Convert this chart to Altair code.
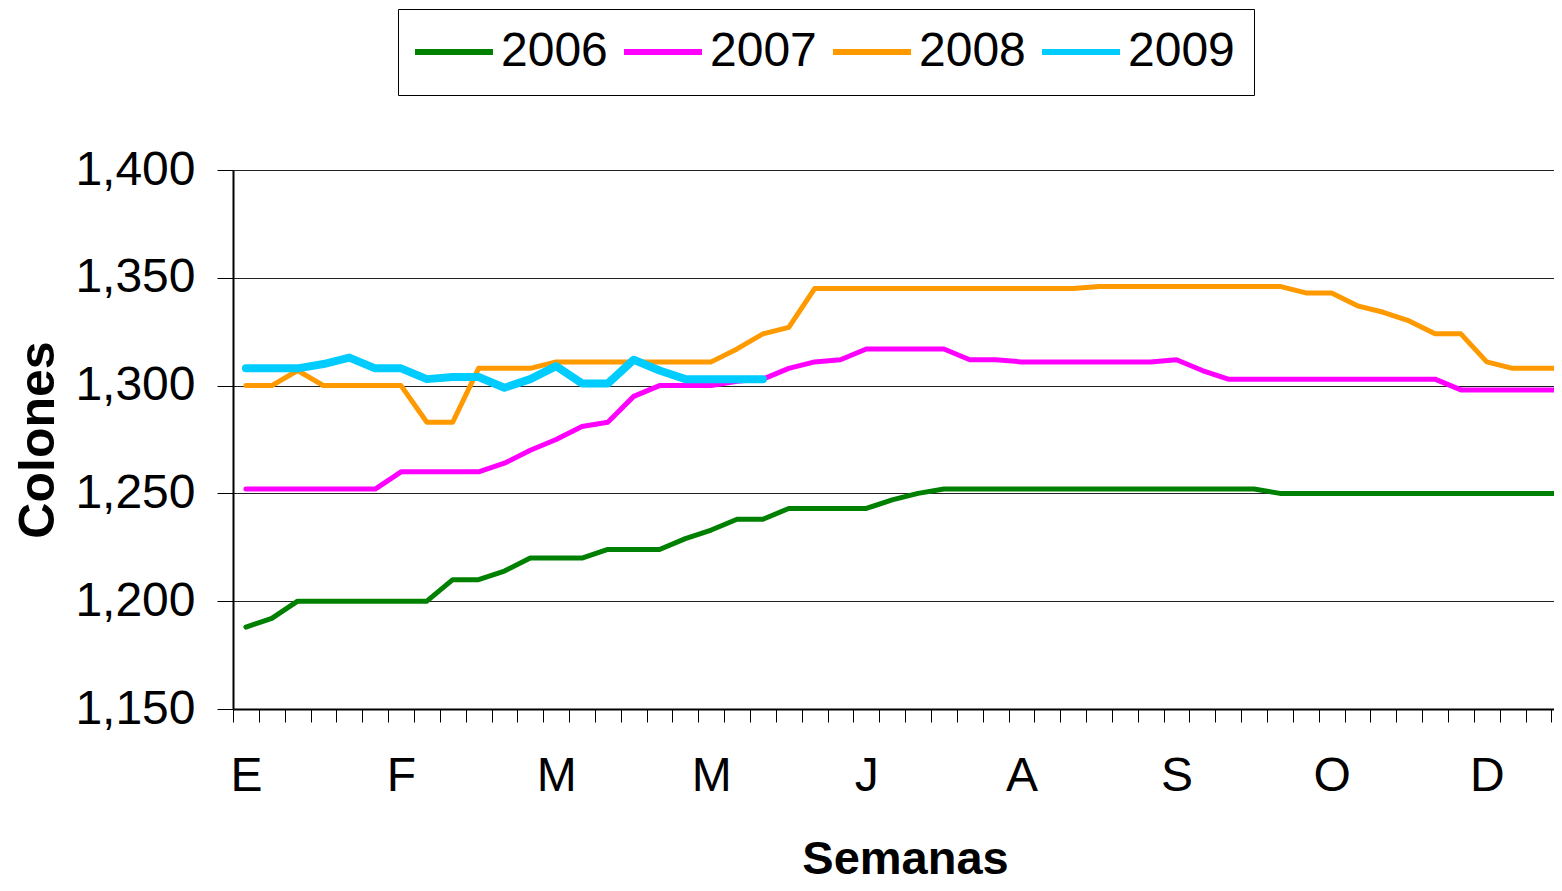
import altair as alt
import pandas as pd

# ---- data ----
years = ["2006", "2007", "2008", "2009"]
colors = ["#008000", "#FF00FF", "#FF9900", "#00CCFF"]
months = ["E", "F", "M", "M", "J", "A", "S", "O", "D"]

v2006 = [1188, 1192, 1200, 1200, 1200, 1200, 1200, 1200, 1210, 1210,
         1214, 1220, 1220, 1220, 1224, 1224, 1224, 1229, 1233, 1238,
         1238, 1243, 1243, 1243, 1243, 1247, 1250, 1252, 1252, 1252,
         1252, 1252, 1252, 1252, 1252, 1252, 1252, 1252, 1252, 1252,
         1250, 1250, 1250, 1250, 1250, 1250, 1250, 1250, 1250, 1250,
         1250, 1250]
v2007 = [1252, 1252, 1252, 1252, 1252, 1252, 1260, 1260, 1260, 1260,
         1264, 1270, 1275, 1281, 1283, 1295, 1300, 1300, 1300, 1302,
         1303, 1308, 1311, 1312, 1317, 1317, 1317, 1317, 1312, 1312,
         1311, 1311, 1311, 1311, 1311, 1311, 1312, 1307, 1303, 1303,
         1303, 1303, 1303, 1303, 1303, 1303, 1303, 1298, 1298, 1298,
         1298, 1298]
v2008 = [1300, 1300, 1307, 1300, 1300, 1300, 1300, 1283, 1283, 1308,
         1308, 1308, 1311, 1311, 1311, 1311, 1311, 1311, 1311, 1317,
         1324, 1327, 1345, 1345, 1345, 1345, 1345, 1345, 1345, 1345,
         1345, 1345, 1345, 1346, 1346, 1346, 1346, 1346, 1346, 1346,
         1346, 1343, 1343, 1337, 1334, 1330, 1324, 1324, 1311, 1308,
         1308, 1308]
v2009 = [1308, 1308, 1308, 1310, 1313, 1308, 1308, 1303, 1304, 1304,
         1299, 1303, 1309, 1301, 1301, 1312, 1307, 1303, 1303, 1303,
         1303]
y_ticks = [1150, 1200, 1250, 1300, 1350, 1400]

series = {"2006": v2006, "2007": v2007, "2008": v2008, "2009": v2009}
rows = []
for yr, vals in series.items():
    for i, v in enumerate(vals):
        rows.append({"semana": i + 1, "anio": yr, "valor": v})
df = pd.DataFrame(rows)

FONT = "Liberation Sans, Arial, sans-serif"
PLOT_W = 1321
PLOT_H = 539
WEEK_PX = 25.85
x_end = 0.5 + PLOT_W / WEEK_PX
tick_vals = [i + 0.5 for i in range(0, 52)]
month_js = "[" + ",".join("'%s'" % m for m in months) + "]"
label_expr = ("(datum.value - 0.5) % 6 == 0 ? " + month_js +
              "[(datum.value - 0.5) / 6] : ''")

chart = alt.Chart(df).mark_line(clip=True, strokeCap="round", strokeJoin="round").encode(
    x=alt.X("semana:Q",
            scale=alt.Scale(domain=[0.5, x_end], nice=False, zero=False),
            axis=alt.Axis(values=tick_vals, labelExpr=label_expr,
                          labelOffset=WEEK_PX / 2, labelFlush=False,
                          labelOverlap=False, labelBound=False,
                          tickSize=13, tickColor="#000000", tickWidth=1,
                          domainColor="#000000", domainWidth=2, grid=False,
                          labelFont=FONT, labelFontSize=48, labelColor="#000000",
                          labelBaseline="alphabetic", labelPadding=68,
                          title="Semanas", titleFont=FONT, titleFontSize=47,
                          titleFontWeight="bold", titleColor="#000000",
                          titleX=672, titleY=164, titleAlign="center",
                          titleAnchor="start", titleBaseline="alphabetic")),
    y=alt.Y("valor:Q",
            scale=alt.Scale(domain=[1150, 1400], nice=False, zero=False),
            axis=alt.Axis(values=y_ticks, format=",.0f", tickSize=16,
                          tickColor="#000000", tickWidth=1,
                          domainColor="#000000", domainWidth=2,
                          grid=True, gridColor="#222222", gridWidth=1,
                          labelFont=FONT, labelFontSize=48, labelColor="#000000",
                          labelPadding=22, labelLimit=0,
                          title="Colones", titleFont=FONT, titleFontSize=50,
                          titleFontWeight="bold", titleColor="#000000",
                          titleX=-195, titleY=PLOT_H / 2, titleAngle=270,
                          titleAlign="center", titleBaseline="middle",
                          titleLimit=0)),
    color=alt.Color("anio:N",
                    scale=alt.Scale(domain=years, range=colors),
                    legend=alt.Legend(title=None, orient="none",
                                      legendX=165, legendY=-161,
                                      direction="horizontal", columns=4,
                                      symbolType="M-2,0L2,0", symbolSize=1521,
                                      symbolStrokeWidth=6, symbolOffset=13,
                                      labelFont=FONT, labelFontSize=48,
                                      labelColor="#000000", labelOffset=23,
                                      columnPadding=4, padding=19,
                                      strokeColor="#000000", fillColor="#FFFFFF",
                                      labelLimit=0)),
    strokeWidth=alt.condition(alt.datum.anio == "2009", alt.value(8), alt.value(5)),
).properties(
    width=PLOT_W, height=PLOT_H,
    autosize=alt.AutoSizeParams(type="none"),
    padding={"left": 225, "top": 162, "right": 0, "bottom": 174},
).configure_view(stroke=None).configure(background="#FFFFFF")

chart.save("out.html", embed_options={"renderer": "svg", "actions": False})
